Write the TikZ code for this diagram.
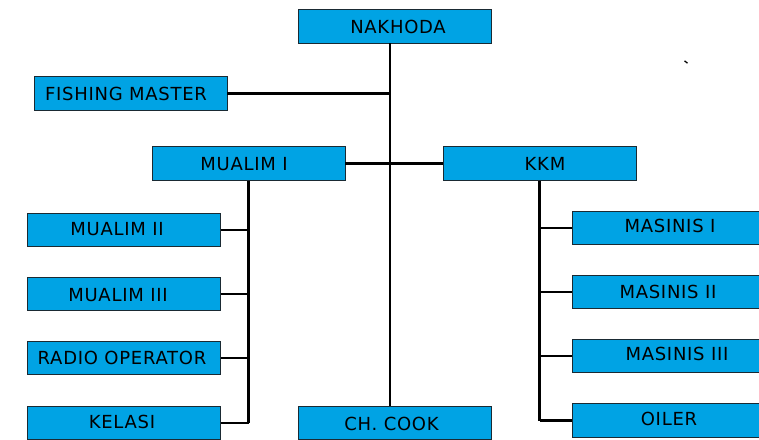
\documentclass[tikz,border=0pt]{standalone}
\usepackage{fontspec}
\setmainfont{DejaVu Sans}[LetterSpace=4]
\definecolor{boxblue}{HTML}{00A3E4}
\definecolor{boxedge}{HTML}{1A2A33}
\begin{document}
\begin{tikzpicture}[x=1pt,y=-1pt,
  box/.style={draw=boxedge,line width=0.8pt,fill=boxblue,minimum width=193pt,minimum height=33.5pt,inner sep=0pt,anchor=center},
  lbl/.style={font=\fontsize{18}{20}\selectfont,text=black,inner sep=0pt},
  conn/.style={line width=2.7pt,black}]
\useasboundingbox (0,0) rectangle (759,439);
\clip (0,0) rectangle (759,439);
% boxes
\node[box] (nak) at (394.5,26.5) {};
\node[lbl] at (398,27) {NAKHODA};
\node[box] (fm) at (130.5,93.5) {};
\node[lbl] at (126,94) {FISHING MASTER};
\node[box] (m1) at (248.5,163.5) {};
\node[lbl] at (244,164) {MUALIM I};
\node[box] (kkm) at (539.5,163.5) {};
\node[lbl] at (545,164) {KKM};
\node[box] (m2) at (124,230) {};
\node[lbl] at (117,229) {MUALIM II};
\node[box] (m3) at (124,294) {};
\node[lbl] at (118,295) {MUALIM III};
\node[box] (ro) at (124,358) {};
\node[lbl] at (122,358) {RADIO OPERATOR};
\node[box] (kel) at (124,423) {};
\node[lbl] at (122,422) {KELASI};
\node[box] (cook) at (394.5,423) {};
\node[lbl] at (391.5,424) {CH. COOK};
\node[box] (ms1) at (668.5,228) {};
\node[lbl] at (670,226) {MASINIS I};
\node[box] (ms2) at (668.5,292) {};
\node[lbl] at (668,292) {MASINIS II};
\node[box] (ms3) at (668.5,356) {};
\node[lbl] at (677,354) {MASINIS III};
\node[box] (oil) at (668.5,420.5) {};
\node[lbl] at (669,419) {OILER};
% trunk
\coordinate (ttop) at (390,43);
\coordinate (tbot) at (390,406);
\draw[conn] (ttop) -- (tbot);
\draw[conn] (fm.east) -- (fm.east -| ttop);
\draw[conn] (m1.east) -- (kkm.west);
% left branch
\draw[conn] (m1.south) -- (m1.south |- kel.east);
\foreach \n in {m2,m3,ro,kel}{\draw[conn] (\n.east) -- (\n.east -| m1.south);}
\draw[conn] (kkm.south) -- (kkm.south |- oil.west);
\foreach \n in {ms1,ms2,ms3,oil}{\draw[conn] (\n.west) -- (\n.west -| kkm.south);}
% stray mark
\draw[line width=1.3pt] (684.5,60.8) -- (687.5,63.2);
\end{tikzpicture}
\end{document}
